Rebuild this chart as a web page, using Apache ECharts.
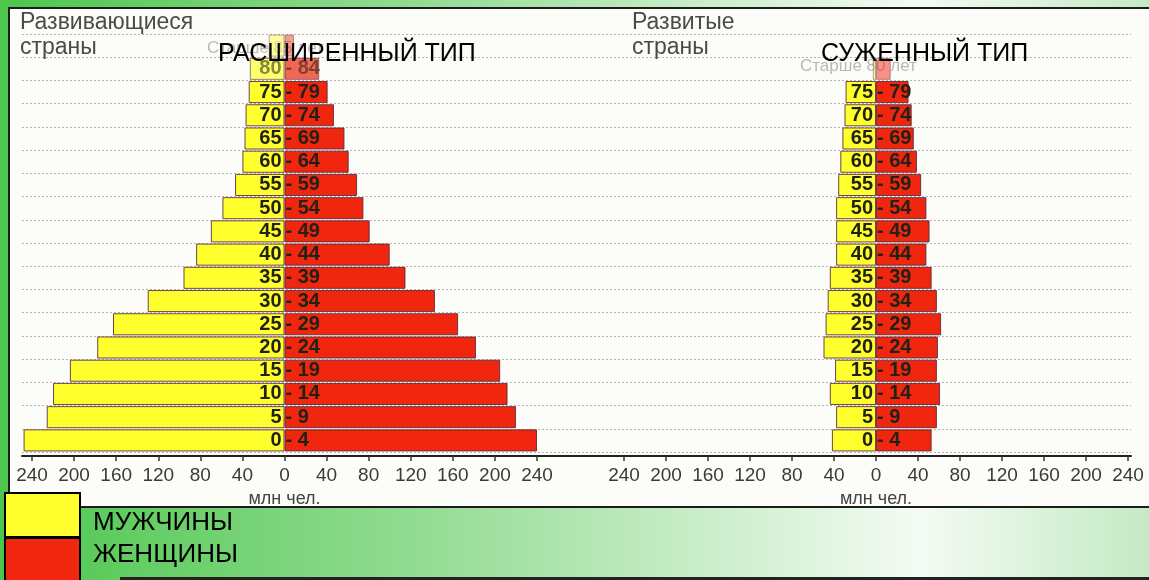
<!DOCTYPE html>
<html>
<head>
<meta charset="utf-8">
<script src="https://cdn.jsdelivr.net/npm/echarts@6/dist/echarts.min.js"></script>
<style>
html,body{margin:0;padding:0;background:#fff;}
#chart{width:1149px;height:580px;}
</style>
</head>
<body>
<div id="chart"></div>
<script>
// ---- data (млн чел.) ----
const ageGroups = ['0-4','5-9','10-14','15-19','20-24','25-29','30-34','35-39','40-44','45-49','50-54','55-59','60-64','65-69','70-74','75-79','80-84','85+'];
const developedGroups = ['0-4','5-9','10-14','15-19','20-24','25-29','30-34','35-39','40-44','45-49','50-54','55-59','60-64','65-69','70-74','75-79','80+',''];
const developingMale   = [248,226,220,204,178,163,130,96,84,70,59,47,40,38,37,34,33,15];
const developingFemale = [240,220,212,205,182,165,143,115,100,81,75,69,61,57,47,41,33,9];
const developedMale    = [42,38,44,39,50,48,46,44,38,38,38,36,34,32,30,29,3,null];
const developedFemale  = [53,58,61,58,59,62,58,53,48,51,48,43,39,36,34,31,14,null];
const axisMin = -240, axisMax = 240, axisStep = 40;
const seriesNames = ['МУЖЧИНЫ','ЖЕНЩИНЫ'];
const panelTitles = ['Развивающиеся\nстраны','Развитые\nстраны'];
const typeTitles = ['РАСШИРЕННЫЙ ТИП','СУЖЕННЫЙ ТИП'];
const oldestNotes = ['Старше 85 лет','Старше 80 лет'];
const unitName = 'млн чел.';

// ---- styles ----
const FONT = 'Liberation Sans, Arial, sans-serif';
const YELLOW = '#ffff2e', RED = '#f0260f';
const fadeLeft = {16:0.7, 17:0.45};
const fadeRight = {16:0.5};

function buildData(vals, sign, fade){
  return vals.map((v,i)=>{
    if(v===null) return null;
    const o = {value: sign*v};
    if(fade[i]!==undefined){
      o.itemStyle = {opacity: fade[i]};
      o.label = fade[i] < 0.6 ? {show:false} : {opacity:0.55};
    }
    return o;
  });
}
const labelBase = {show:true, color:'#222214', fontWeight:'bold', fontSize:20, fontFamily:FONT};
const maleLabel = Object.assign({}, labelBase, {position:'insideRight', distance:3,
  formatter: p => p.name.indexOf('-')>0 ? p.name.split('-')[0] : ''});
const femaleLabel = Object.assign({}, labelBase, {position:'insideLeft', distance:1,
  formatter: p => p.name.indexOf('-')>0 ? '- ' + p.name.split('-')[1] : ''});
const barItem = (c)=>({color:c, borderColor:'rgba(85,40,60,0.85)', borderWidth:1});

const GRID_TOP = 34, GRID_H = 418;
function valueAxis(gi){
  return {type:'value', gridIndex:gi, min:axisMin, max:axisMax, interval:axisStep, offset:4,
    axisLine:{show:false},
    axisTick:{show:true, length:5, lineStyle:{color:'#333', width:1.5}},
    splitLine:{show:false},
    axisLabel:{formatter:v=>Math.abs(v), color:'#3a3a3a', fontSize:19, margin:10, fontFamily:FONT},
    name:unitName, nameLocation:'middle', nameGap:26,
    nameTextStyle:{color:'#444', fontSize:18, fontFamily:FONT}
  };
}
function legendFor(name, top, pad){
  return {data:[name], orient:'vertical', left:4, top:top, padding:0, itemWidth:75, itemHeight:44,
    icon:'rect', itemStyle:{borderColor:'#000', borderWidth:2}, selectedMode:false,
    formatter: n => '{t|' + n + '}',
    textStyle:{color:'#000', fontFamily:FONT, rich:{t:{fontSize:26, color:'#000', fontFamily:FONT, padding:pad}}}};
}

const chart = echarts.init(document.getElementById('chart'));
chart.setOption({
  animation:false,
  title:[
    {text:panelTitles[0], left:20, top:10, padding:0, textStyle:{fontSize:23, lineHeight:25, color:'#4a4a4a', fontWeight:'normal', fontFamily:FONT}},
    {text:panelTitles[1], left:632, top:10, padding:0, textStyle:{fontSize:23, lineHeight:25, color:'#4a4a4a', fontWeight:'normal', fontFamily:FONT}},
    {text:typeTitles[0], left:218, top:42, padding:0, textStyle:{fontSize:25, color:'#000', fontWeight:'normal', fontFamily:FONT}},
    {text:typeTitles[1], left:821, top:42, padding:0, textStyle:{fontSize:25, color:'#000', fontWeight:'normal', fontFamily:FONT}}
  ],
  graphic:[
    {type:'rect', z:-10, silent:true, shape:{x:0,y:0,width:1149,height:580},
      style:{fill:{type:'linear',x:0,y:0,x2:1,y2:0,colorStops:[
        {offset:0,color:'#4cc64c'},{offset:0.4,color:'#9ade9a'},{offset:0.8,color:'#f4fbf4'},{offset:1,color:'#c4eac4'}]}}},
    {type:'rect', z:-9, silent:true, shape:{x:9,y:8,width:1145,height:499},
      style:{fill:'#fcfcf9', stroke:'#1c1c1c', lineWidth:2}},
    {type:'rect', z:-9, silent:true, shape:{x:120,y:577,width:1029,height:3}, style:{fill:'#222'}},
    {type:'text', z:-8, silent:true, left:207, top:40, style:{text:oldestNotes[0], fontSize:17, fill:'#b9b9b9', fontFamily:FONT}},
    {type:'text', z:-8, silent:true, left:800, top:58, style:{text:oldestNotes[1], fontSize:17, fill:'#b9b9b9', fontFamily:FONT}}
  ],
  legend:[
    legendFor(seriesNames[0], 492, [16,0,0,8]),
    legendFor(seriesNames[1], 537, [0,0,10,8])
  ],
  grid:[
    {left:22, width:1109, top:GRID_TOP, height:GRID_H},
    {left:32, width:505, top:GRID_TOP, height:GRID_H},
    {left:624, width:504, top:GRID_TOP, height:GRID_H}
  ],
  xAxis:[
    {type:'value', gridIndex:0, min:0, max:1, offset:4, axisLine:{show:true, lineStyle:{color:'#222', width:2}},
      axisTick:{show:false}, axisLabel:{show:false}, splitLine:{show:false}},
    valueAxis(1),
    valueAxis(2)
  ],
  yAxis:[
    {type:'category', gridIndex:0, data:ageGroups, axisLine:{show:false}, axisTick:{show:false}, axisLabel:{show:false},
      splitLine:{show:true, lineStyle:{color:'#b5b5b0', type:[2,2], width:1}}},
    {type:'category', gridIndex:1, data:ageGroups, show:false},
    {type:'category', gridIndex:2, data:developedGroups, show:false}
  ],
  series:[
    {name:seriesNames[0], type:'bar', xAxisIndex:1, yAxisIndex:1, stack:'dev', barCategoryGap:'5%', clip:false,
      itemStyle:barItem(YELLOW), label:maleLabel, data:buildData(developingMale,-1,fadeLeft)},
    {name:seriesNames[1], type:'bar', xAxisIndex:1, yAxisIndex:1, stack:'dev', barCategoryGap:'5%', clip:false,
      itemStyle:barItem(RED), label:femaleLabel, data:buildData(developingFemale,1,fadeLeft)},
    {name:seriesNames[0], type:'bar', xAxisIndex:2, yAxisIndex:2, stack:'ed', barCategoryGap:'5%', clip:false,
      itemStyle:barItem(YELLOW), label:maleLabel, data:buildData(developedMale,-1,fadeRight)},
    {name:seriesNames[1], type:'bar', xAxisIndex:2, yAxisIndex:2, stack:'ed', barCategoryGap:'5%', clip:false,
      itemStyle:barItem(RED), label:femaleLabel, data:buildData(developedFemale,1,fadeRight)}
  ]
});
</script>
</body>
</html>
